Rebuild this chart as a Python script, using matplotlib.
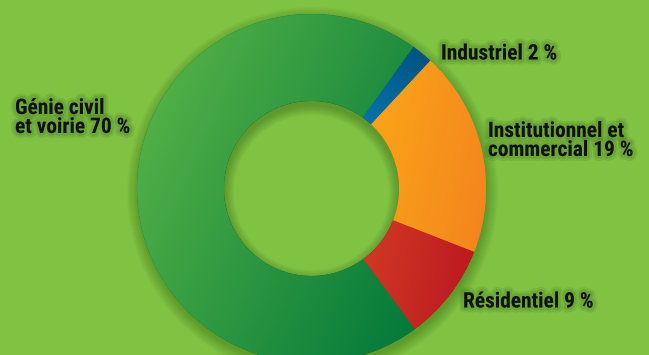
import numpy as np
import matplotlib.pyplot as plt
import matplotlib.patheffects as pe
from matplotlib.patches import Wedge, Circle
from matplotlib.colors import LinearSegmentedColormap

# données
sectors = ['Industriel', 'Institutionnel et\ncommercial', 'Résidentiel', 'Génie civil\net voirie']
shares = [2, 19, 9, 70]
color_start = ['#0b90d0', '#fdb515', '#dc4a27', '#5db848']
color_end = ['#00507e', '#f4821f', '#ba1620', '#00773a']
grad_dir = [(1, 1), (1, -0.2), (1, -0.2), (1, -0.45)]
label_pos = [(441, 54), (488, 141), (463, 302), (15, 118)]

bg = '#80c242'
fig = plt.figure(figsize=(6.49, 3.55), dpi=100)
fig.patch.set_facecolor(bg)
ax = fig.add_axes([0, 0, 1, 1])
ax.set_facecolor(bg)

cx, cy = 311.5, 355 - 188.5
R, r_in = 174.5, 87.5

# ombre extérieure
for k in range(12):
    ax.add_patch(Wedge((cx + 1, cy - 4), R + 11 - k, 0, 360, width=20, color='#1f4a08', alpha=0.028, lw=0))

# anneau
wedges, _ = ax.pie(shares, center=(cx, cy), radius=R, startangle=54.3, counterclock=False,
                   colors=color_end, wedgeprops=dict(width=R - r_in, linewidth=0))

# dégradés
for w, c0, c1, d in zip(wedges, color_start, color_end, grad_dir):
    verts = w.get_patch_transform().transform(w.get_path().vertices)
    x0, y0 = verts.min(axis=0)
    x1, y1 = verts.max(axis=0)
    xs = np.linspace(x0, x1, 200)
    ys = np.linspace(y0, y1, 200)
    X, Y = np.meshgrid(xs, ys)
    proj = X * d[0] + Y * d[1]
    proj = (proj - proj.min()) / (proj.max() - proj.min())
    cmap = LinearSegmentedColormap.from_list('g', [c0, c1])
    ax.imshow(proj, extent=(x0, x1, y0, y1), origin='lower', cmap=cmap,
              clip_path=w, aspect='auto', interpolation='bilinear', zorder=w.get_zorder() + 0.1)

# ombre intérieure du trou
hole = Circle((cx, cy), r_in, transform=ax.transData)
for k in range(10):
    s = Wedge((cx, cy - 4), r_in + 8, 0, 360, width=9 + k, color='#1f4a08', alpha=0.035, lw=0, zorder=3)
    ax.add_patch(s)
    s.set_clip_path(hole)

# étiquettes
shadow = [pe.Stroke(linewidth=7, foreground='#2f5a10', alpha=0.12),
          pe.Stroke(linewidth=4, foreground='#2f5a10', alpha=0.15), pe.Normal()]
for name, v, (x, y) in zip(sectors, shares, label_pos):
    ax.text(x, 355 - y, f'{name} {v} %', ha='left', va='center', fontsize=15.4,
            fontweight='bold', color='#111111', linespacing=1.0,
            family=['Roboto Condensed', 'DejaVu Sans'], path_effects=shadow, zorder=5)

ax.set_xlim(0, 649)
ax.set_ylim(0, 355)
ax.set_aspect('equal')
ax.axis('off')
fig.savefig('out.png', dpi=100, facecolor=bg)
